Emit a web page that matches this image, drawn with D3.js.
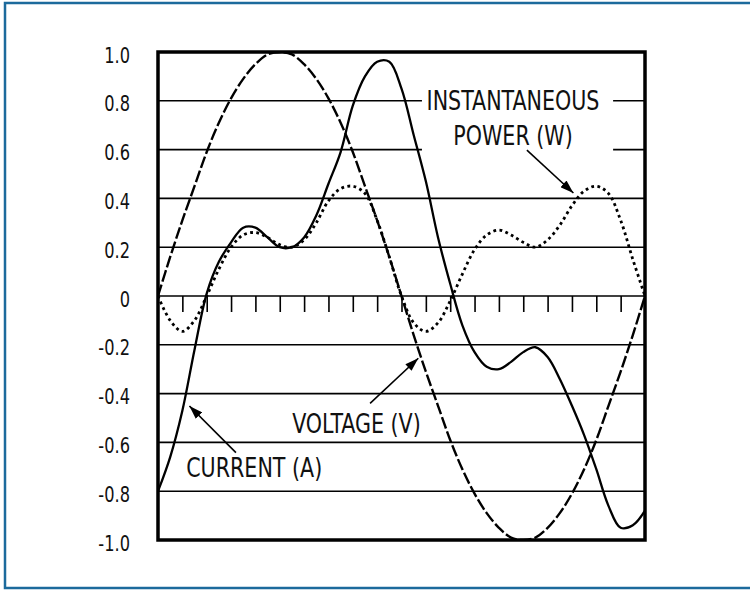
<!DOCTYPE html>
<html>
<head>
<meta charset="utf-8">
<script src="https://cdn.jsdelivr.net/npm/d3@7"></script>
<style>
  body { margin: 0; background: #fff; }
  svg text {
    font-family: "Liberation Sans Narrow", "Arial Narrow", "DejaVu Sans Condensed", sans-serif;
    fill: #111;
  }
</style>
</head>
<body>
<svg id="chart" width="750" height="590"></svg>
<script>
/* global d3 */

// Values, one every half division (20 divisions across)
var time = [0, 0.5, 1, 1.5, 2, 2.5, 3, 3.5, 4, 4.5, 5, 5.5, 6, 6.5, 7, 7.5, 8, 8.5, 9, 9.5,
            10, 10.5, 11, 11.5, 12, 12.5, 13, 13.5, 14, 14.5, 15, 15.5, 16, 16.5, 17, 17.5,
            18, 18.5, 19, 19.5, 20];
var voltage = [0, 0.16, 0.31, 0.45, 0.59, 0.71, 0.81, 0.89, 0.95, 0.99, 1.00, 0.99, 0.95, 0.89,
               0.81, 0.71, 0.59, 0.45, 0.31, 0.16, 0, -0.16, -0.31, -0.45, -0.59, -0.71, -0.81,
               -0.89, -0.95, -0.99, -1.00, -0.99, -0.95, -0.89, -0.81, -0.71, -0.59, -0.45,
               -0.31, -0.16, 0];
var current = [-0.80, -0.66, -0.47, -0.22, 0.01, 0.14, 0.22, 0.28, 0.28, 0.24, 0.20, 0.20,
               0.24, 0.33, 0.46, 0.59, 0.78, 0.90, 0.96, 0.96, 0.85, 0.66, 0.47, 0.24, 0.05,
               -0.12, -0.23, -0.29, -0.30, -0.27, -0.23, -0.21, -0.25, -0.34, -0.45, -0.57,
               -0.71, -0.86, -0.95, -0.94, -0.88];
var power = [0, -0.10, -0.145, -0.10, 0, 0.11, 0.20, 0.25, 0.26, 0.24, 0.21, 0.20, 0.23, 0.30,
             0.39, 0.44, 0.45, 0.42, 0.31, 0.16, 0, -0.11, -0.145, -0.11, -0.02, 0.09, 0.19,
             0.25, 0.27, 0.25, 0.22, 0.20, 0.23, 0.29, 0.37, 0.43, 0.45, 0.42, 0.31, 0.15, 0];

var yTicks = [1, 0.8, 0.6, 0.4, 0.2, 0, -0.2, -0.4, -0.6, -0.8, -1];
var yTickLabels = ["1.0", "0.8", "0.6", "0.4", "0.2", "0", "-0.2", "-0.4", "-0.6", "-0.8", "-1.0"];
var xTicks = d3.range(1, 20);

// Callouts, placed in data units
var labelNames = ["INSTANTANEOUS", "POWER (W)", "VOLTAGE (V)", "CURRENT (A)"];
var labelT = [14.58, 14.58, 8.15, 3.95];
var labelV = [0.762, 0.619, -0.561, -0.742];
var arrowFrom = [[15.15, 0.598], [8.71, -0.44], [3.2, -0.642]];
var arrowTo = [[17.06, 0.422], [10.69, -0.255], [1.29, -0.451]];

var svg = d3.select("#chart")
  , margin = {top: 52, right: 105, bottom: 50, left: 158}
  , width = 750 - margin.left - margin.right
  , height = 590 - margin.top - margin.bottom
  , x = d3.scaleLinear().domain([0, 20]).range([0, width])
  , y = d3.scaleLinear().domain([-1, 1]).range([height, 0])
;

// the scan uses a narrow grotesque; squeeze the fallback font to match
function squeeze(px, py, k) {
  return "translate(" + px + "," + py + ") scale(" + k + ",1)";
}

// outer blue frame (runs off the right edge, like the scan)
svg.append("rect")
    .attr("x", 5).attr("y", 3)
    .attr("width", 780).attr("height", 585)
    .attr("fill", "none")
    .attr("stroke", "#1c6a9c")
    .attr("stroke-width", 2.5)
;

var g = svg.append("g")
    .attr("transform", "translate(" + margin.left + "," + margin.top + ")");

g.append("clipPath").attr("id", "plot")
  .append("rect").attr("width", width).attr("height", height);

// horizontal grid lines
g.selectAll(".grid")
    .data(yTicks.filter(function(d) { return Math.abs(d) < 1; }))
  .enter().append("line")
    .attr("class", "grid")
    .attr("x1", 0).attr("x2", width)
    .attr("y1", y).attr("y2", y)
    .attr("stroke", "#000")
    .attr("stroke-width", 1.6)
;

// ticks hanging off the zero line
var ticks = g.append("g")
    .attr("transform", "translate(0," + y(0) + ")")
    .call(d3.axisBottom(x).tickValues(xTicks).tickSize(16).tickFormat(""))
;
ticks.select(".domain").remove();
ticks.selectAll("line").attr("stroke", "#000").attr("stroke-width", 1.6);

// y labels
g.selectAll(".ylab")
    .data(yTicks)
  .enter().append("text")
    .attr("class", "ylab")
    .attr("transform", function(d) { return squeeze(-28, y(d) + 10.5, 0.82); })
    .attr("text-anchor", "end")
    .style("font-size", "22px")
    .text(function(d, i) { return yTickLabels[i]; })
;

// white box that breaks the grid round the power callout
g.append("rect")
    .attr("x", x(10.84))
    .attr("y", y(0.84))
    .attr("width", x(18.69) - x(10.84))
    .attr("height", y(0.56) - y(0.84))
    .attr("fill", "#fff")
;

g.selectAll(".callout")
    .data(labelNames)
  .enter().append("text")
    .attr("class", "callout")
    .attr("transform", function(d, i) {
        return squeeze(x(labelT[i]), y(labelV[i]), 0.85);
      })
    .attr("text-anchor", "middle")
    .style("font-size", "27px")
    .text(function(d) { return d; })
;

// curves
function series(vals) {
  return time.map(function(t, i) { return [t, vals[i]]; });
}
var line = d3.line()
    .x(function(d) { return x(d[0]); })
    .y(function(d) { return y(d[1]); })
    .curve(d3.curveCatmullRom.alpha(0.5))
;
var curves = g.append("g").attr("clip-path", "url(#plot)");

curves.append("path")
    .datum(series(voltage))
    .attr("d", line)
    .attr("fill", "none")
    .attr("stroke", "#000")
    .attr("stroke-width", 2.4)
    .attr("stroke-dasharray", "12,3")
;
curves.append("path")
    .datum(series(current))
    .attr("d", line)
    .attr("fill", "none")
    .attr("stroke", "#000")
    .attr("stroke-width", 2.3)
;
curves.append("path")
    .datum(series(power))
    .attr("d", line)
    .attr("fill", "none")
    .attr("stroke", "#000")
    .attr("stroke-width", 2.8)
    .attr("stroke-dasharray", "2.8,3.4")
;

// heavy plot frame
g.append("rect")
    .attr("width", width).attr("height", height)
    .attr("fill", "none")
    .attr("stroke", "#000")
    .attr("stroke-width", 3.5)
;

// arrows
svg.append("defs").append("marker")
    .attr("id", "head")
    .attr("viewBox", "0 0 12 8")
    .attr("refX", 12).attr("refY", 4)
    .attr("markerWidth", 14).attr("markerHeight", 9)
    .attr("markerUnits", "userSpaceOnUse")
    .attr("orient", "auto")
  .append("path")
    .attr("d", "M0,0L12,4L0,8Z")
    .attr("fill", "#000")
;
g.selectAll(".arrow")
    .data(arrowFrom)
  .enter().append("line")
    .attr("class", "arrow")
    .attr("x1", function(d) { return x(d[0]); })
    .attr("y1", function(d) { return y(d[1]); })
    .attr("x2", function(d, i) { return x(arrowTo[i][0]); })
    .attr("y2", function(d, i) { return y(arrowTo[i][1]); })
    .attr("stroke", "#000")
    .attr("stroke-width", 1.6)
    .attr("marker-end", "url(#head)")
;
</script>
</body>
</html>
